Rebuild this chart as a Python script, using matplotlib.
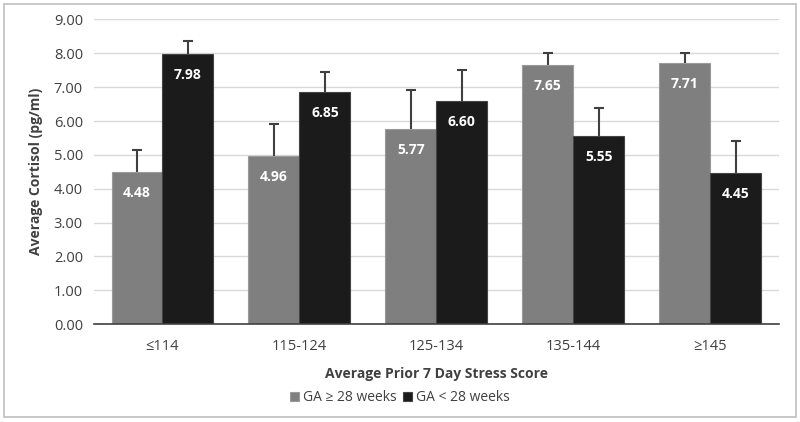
import matplotlib
matplotlib.use("Agg")
import matplotlib.pyplot as plt
import numpy as np
from matplotlib.patches import Rectangle

plt.rcParams['font.family'] = ['Open Sans', 'DejaVu Sans']

categories = ["≤114", "115-124", "125-134", "135-144", "≥145"]
ga_ge28 = [4.48, 4.96, 5.77, 7.65, 7.71]
ga_lt28 = [7.98, 6.85, 6.60, 5.55, 4.45]
err_ge28 = [0.66, 0.94, 1.14, 0.36, 0.30]
err_lt28 = [0.39, 0.59, 0.90, 0.82, 0.96]
series_names = ["GA ≥ 28 weeks", "GA < 28 weeks"]

fig = plt.figure(figsize=(8, 4.22), dpi=100)
ax = fig.add_axes([0.1175, 0.2322, 0.856, 0.7216])

x = np.arange(len(categories))
w = 0.372
gray = "#7f7f7f"
black = "#1b1b1b"

b1 = ax.bar(x - w/2, ga_ge28, w, color=gray, edgecolor="#9a9a9a", linewidth=0.8,
            zorder=3, label=series_names[0])
b2 = ax.bar(x + w/2, ga_lt28, w, color=black, edgecolor="#444444", linewidth=0.8,
            zorder=3, label=series_names[1])

for xs, vals, errs in ((x - w/2, ga_ge28, err_ge28), (x + w/2, ga_lt28, err_lt28)):
    eb = ax.errorbar(xs, vals, yerr=[np.zeros(len(x)), errs], fmt='none',
                     ecolor="#404040", elinewidth=1.5, capsize=3.5, capthick=1.5, zorder=2)
    caps = eb[1]
    # hide the lower caps (at the bar tops)
    for c in caps:
        yd = np.asarray(c.get_ydata())
        if np.allclose(yd, vals):
            c.set_visible(False)

for bars, vals in ((b1, ga_ge28), (b2, ga_lt28)):
    for rect, v in zip(bars, vals):
        ax.annotate(f"{v:.2f}", (rect.get_x() + rect.get_width()/2, v),
                    xytext=(0, -15), textcoords="offset points", ha="center", va="center",
                    color="white", fontsize=10, fontweight="bold", zorder=4)

ax.set_ylim(0, 9)
ax.set_xlim(-0.5, len(categories) - 0.5)
ax.set_yticks(np.arange(0, 9.01, 1))
ax.set_yticklabels([f"{v:.2f}" for v in np.arange(0, 9.01, 1)], fontsize=10.5, color="#404040")
ax.set_xticks(x)
ax.set_xticklabels(categories, fontsize=10.5, color="#404040")
ax.tick_params(axis='y', length=0, pad=8)
ax.tick_params(axis='x', length=0, pad=11)
ax.yaxis.grid(True, color="#d9d9d9", linewidth=1, zorder=0)
ax.set_axisbelow(True)
for s in ["top", "right", "left"]:
    ax.spines[s].set_visible(False)
ax.spines["bottom"].set_color("#404040")
ax.spines["bottom"].set_linewidth(1.2)
ax.spines["bottom"].set_zorder(5)

ax.set_ylabel("Average Cortisol (pg/ml)", fontsize=10, fontweight="bold", color="#404040", labelpad=8)
ax.set_xlabel("Average Prior 7 Day Stress Score", fontsize=10, fontweight="bold", color="#404040", labelpad=9)

leg = fig.legend(handles=[b1, b2], labels=series_names, loc="center", bbox_to_anchor=(0.5, 0.058),
                 ncol=2, frameon=False, fontsize=10, handlelength=0.6, handleheight=0.6,
                 handletextpad=0.3, columnspacing=0.5)
for t in leg.get_texts():
    t.set_color("#404040")

fig.patches.append(Rectangle((0.005, 0.012), 0.99, 0.978, transform=fig.transFigure,
                             fill=False, edgecolor="#bfbfbf", linewidth=1.2))

fig.savefig("out.png", dpi=100)
